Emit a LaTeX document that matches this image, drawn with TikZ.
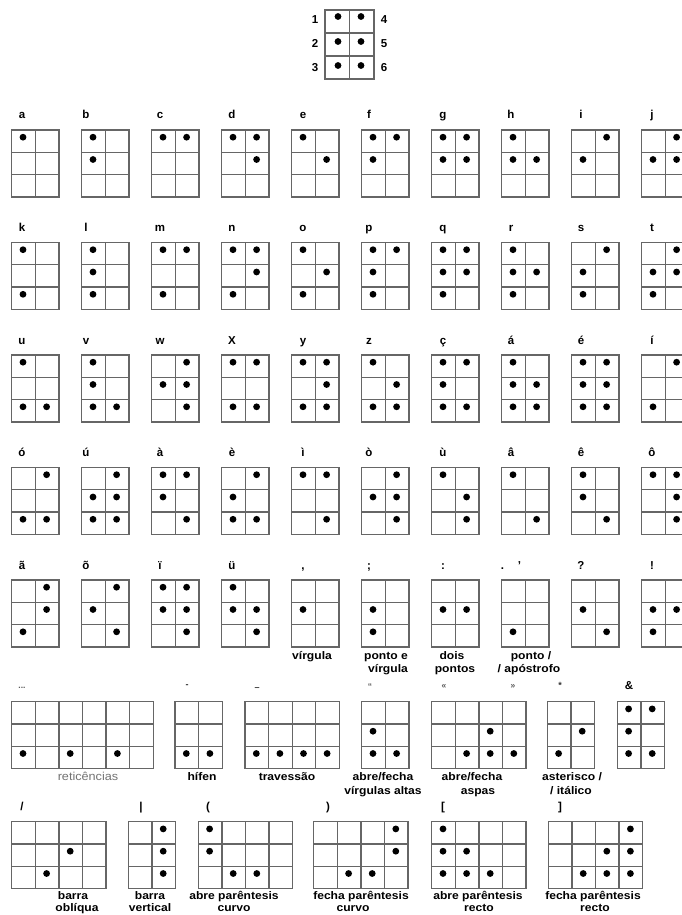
\documentclass[tikz,border=0pt]{standalone}
\usepackage{fontspec}
\setmainfont{Liberation Sans}
\newfontfamily\subf{Liberation Sans}[FakeStretch=1.1]
\def\cw{23.6}
\def\ch{22.3}
\tikzset{
  gl/.style={draw=black!60,line width=1.25pt},
  dotfill/.style={fill=black},
  lab/.style={font=\bfseries\fontsize{11.5}{12}\selectfont,inner sep=0pt,anchor=base},
  sub/.style={font=\subf\bfseries\fontsize{11}{12}\selectfont,inner sep=0pt,anchor=base},
  subreg/.style={font=\subf\fontsize{11.5}{12}\selectfont,text=black!55,inner sep=0pt,anchor=base},
  symlab/.style={font=\bfseries\fontsize{9}{10}\selectfont,text=black!80,inner sep=0pt,anchor=base},
  tinysym/.style={font=\bfseries\fontsize{8.5}{9}\selectfont,text=black!65,inner sep=0pt,anchor=base},
}
% grid of a box: x, y (top-left), number of columns
\newcommand\bbox[3]{%
  \pgfmathsetmacro\bw{#3*\cw}%
  \draw[gl] (#1,#2) rectangle ++(\bw,3*\ch);
  \pgfmathtruncatemacro\ncm{#3-1}%
  \foreach \k in {1,...,\ncm}{\draw[gl] (#1+\k*\cw,#2) -- ++(0,3*\ch);}
  \draw[gl] (#1,#2+\ch) -- ++(\bw,0);
  \draw[gl] (#1,#2+2*\ch) -- ++(\bw,0);
}
% a dot: x, y of the box, column, row
\newcommand\bd[4]{\fill[dotfill] (#1+#3*\cw-\cw/2-0.5,#2+#4*\ch-\ch+7.2) circle (3.4);}
% a two-column letter box with braille dot numbers
\newcommand\lbox[3]{%
  \bbox{#1}{#2}{2}%
  \edef\dotlist{#3}%
  \foreach \d in \dotlist {%
    \pgfmathtruncatemacro\cc{\d>3?2:1}%
    \pgfmathtruncatemacro\rr{\d>3?\d-3:\d}%
    \bd{#1}{#2}{\cc}{\rr}}%
}
\begin{document}
\begin{tikzpicture}[x=1pt,y=-1pt]
\useasboundingbox[fill=white] (0,0) rectangle (681,915);

% ---------- key ----------
\draw[gl] (325,10) rectangle (374,79);
\draw[gl] (349.5,10) -- (349.5,79);
\draw[gl] (325,33) -- (374,33);
\draw[gl] (325,56) -- (374,56);
\foreach \yy in {16.5,41.5,65.5}{
  \fill[dotfill] (338,\yy) circle (3.4);
  \fill[dotfill] (361,\yy) circle (3.4);}
\node[lab] (k1) at (315,24) {1};
\node[lab] (k2) at (315,47.5) {2};
\node[lab] (k3) at (315,71.5) {3};
\node[lab] (k4) at (384,24) {4};
\node[lab] (k5) at (384,47.5) {5};
\node[lab] (k6) at (384,71.5) {6};

% ---------- letter rows ----------
\foreach \r/\names/\dlists in {
  0/{a,b,c,d,e,f,g,h,i,j}/{{1},{1,2},{1,4},{1,4,5},{1,5},{1,2,4},{1,2,4,5},{1,2,5},{2,4},{2,4,5}},
  1/{k,l,m,n,o,p,q,r,s,t}/{{1,3},{1,2,3},{1,3,4},{1,3,4,5},{1,3,5},{1,2,3,4},{1,2,3,4,5},{1,2,3,5},{2,3,4},{2,3,4,5}},
  2/{u,v,w,X,y,z,ç,á,é,í}/{{1,3,6},{1,2,3,6},{2,4,5,6},{1,3,4,6},{1,3,4,5,6},{1,3,5,6},{1,2,3,4,6},{1,2,3,5,6},{1,2,3,4,5,6},{3,4}},
  3/{ó,ú,à,è,ì,ò,ù,â,ê,ô}/{{3,4,6},{2,3,4,5,6},{1,2,4,6},{2,3,4,6},{1,4,6},{2,4,5,6},{1,5,6},{1,6},{1,2,6},{1,4,5,6}},
  4/{ã,õ,ï,ü,{,},;,:,{.\hspace{1.2em}\textquoteright},?,!}/{{3,4,5},{2,4,6},{1,2,4,5,6},{1,2,5,6},{2},{2,3},{2,5},{3},{2,6},{2,3,5}}}{
  \pgfmathsetmacro\by{130+112.5*\r}
  \foreach \dl [count=\c from 0] in \dlists {
    \pgfmathsetmacro\bx{11.7+70*\c}
    \lbox{\bx}{\by}{\dl}
  }
  \foreach \nm [count=\c from 0] in \names {
    \pgfmathsetmacro\lx{{22,86,160,232,303,369,443,511,581,652}[\c]}
    \node[lab] (l-\r-\c) at (\lx,\by-11) {\nm};
  }
}

% sub-labels of the last letter row
\node[sub] (s1) at (312,659) {vírgula};
\node[sub] (s2a) at (386,659) {ponto e};
\node[sub] (s2b) at (388,672.5) {vírgula};
\node[sub] (s3a) at (452,659) {dois};
\node[sub] (s3b) at (455,672.5) {pontos};
\node[sub] (s4a) at (531,659) {ponto /};
\node[sub] (s4b) at (529,672.5) {/ apóstrofo};

% ---------- signs, row 1 ----------
\def\ya{701.7}
\bbox{11.7}{\ya}{6}
\bd{11.7}{\ya}{1}{3}\bd{11.7}{\ya}{3}{3}\bd{11.7}{\ya}{5}{3}
\bbox{175}{\ya}{2}
\bd{175}{\ya}{1}{3}\bd{175}{\ya}{2}{3}
\bbox{245}{\ya}{4}
\bd{245}{\ya}{1}{3}\bd{245}{\ya}{2}{3}\bd{245}{\ya}{3}{3}\bd{245}{\ya}{4}{3}
\bbox{361.7}{\ya}{2}
\bd{361.7}{\ya}{1}{2}\bd{361.7}{\ya}{1}{3}\bd{361.7}{\ya}{2}{3}
\bbox{431.7}{\ya}{4}
\bd{431.7}{\ya}{2}{3}\bd{431.7}{\ya}{3}{2}\bd{431.7}{\ya}{3}{3}\bd{431.7}{\ya}{4}{3}
\bbox{547.3}{\ya}{2}
\bd{547.3}{\ya}{2}{2}\bd{547.3}{\ya}{1}{3}
\bbox{617.3}{\ya}{2}
\bd{617.3}{\ya}{1}{1}\bd{617.3}{\ya}{2}{1}\bd{617.3}{\ya}{1}{2}\bd{617.3}{\ya}{1}{3}\bd{617.3}{\ya}{2}{3}

\node[tinysym] (m1) at (22,688) {...};
\node[symlab] (m2) at (187,687) {-};
\node[symlab] (m3) at (257,690) {–};
\node[tinysym] (m4) at (370,689) {“};
\node[tinysym] (m5) at (444,688) {«};
\node[tinysym] (m6) at (513,688) {»};
\node[symlab] (m7) at (560,688) {*};
\node[lab] (m8) at (629,689.5) {\&};

\node[subreg] (t1) at (88,780.5) {reticências};
\node[sub] (t2) at (202,780.5) {hífen};
\node[sub] (t3) at (287,780.5) {travessão};
\node[sub] (t4a) at (383,780.5) {abre/fecha};
\node[sub] (t4b) at (383,794.5) {vírgulas altas};
\node[sub] (t5a) at (472,780.5) {abre/fecha};
\node[sub] (t5b) at (478,794.5) {aspas};
\node[sub] (t6a) at (572,780.5) {asterisco /};
\node[sub] (t6b) at (571,794.5) {/ itálico};

% ---------- signs, row 2 ----------
\def\yb{821.7}
\bbox{11.7}{\yb}{4}
\bd{11.7}{\yb}{3}{2}\bd{11.7}{\yb}{2}{3}
\bbox{128.3}{\yb}{2}
\bd{128.3}{\yb}{2}{1}\bd{128.3}{\yb}{2}{2}\bd{128.3}{\yb}{2}{3}
\bbox{198.3}{\yb}{4}
\bd{198.3}{\yb}{1}{1}\bd{198.3}{\yb}{1}{2}\bd{198.3}{\yb}{2}{3}\bd{198.3}{\yb}{3}{3}
\bbox{313.7}{\yb}{4}
\bd{313.7}{\yb}{4}{1}\bd{313.7}{\yb}{4}{2}\bd{313.7}{\yb}{2}{3}\bd{313.7}{\yb}{3}{3}
\bbox{431.7}{\yb}{4}
\bd{431.7}{\yb}{1}{1}\bd{431.7}{\yb}{1}{2}\bd{431.7}{\yb}{1}{3}\bd{431.7}{\yb}{2}{2}\bd{431.7}{\yb}{2}{3}\bd{431.7}{\yb}{3}{3}
\bbox{548.3}{\yb}{4}
\bd{548.3}{\yb}{4}{1}\bd{548.3}{\yb}{4}{2}\bd{548.3}{\yb}{4}{3}\bd{548.3}{\yb}{3}{2}\bd{548.3}{\yb}{3}{3}\bd{548.3}{\yb}{2}{3}

\node[lab] (n1) at (22,810) {/};
\node[lab] (n2) at (141,810) {|};
\node[lab] (n3) at (208,810) {(};
\node[lab] (n4) at (328,810) {)};
\node[lab] (n5) at (443,810) {[};
\node[lab] (n6) at (560,810) {]};

\node[sub] (u1a) at (73,899) {barra};
\node[sub] (u1b) at (77,911.5) {oblíqua};
\node[sub] (u2a) at (150,899) {barra};
\node[sub] (u2b) at (150,911.5) {vertical};
\node[sub] (u3a) at (234,899) {abre parêntesis};
\node[sub] (u3b) at (234,911.5) {curvo};
\node[sub] (u4a) at (361,899) {fecha parêntesis};
\node[sub] (u4b) at (353,911.5) {curvo};
\node[sub] (u5a) at (478,899) {abre parêntesis};
\node[sub] (u5b) at (479,911.5) {recto};
\node[sub] (u6a) at (593,899) {fecha parêntesis};
\node[sub] (u6b) at (595,911.5) {recto};
\end{tikzpicture}
\end{document}
